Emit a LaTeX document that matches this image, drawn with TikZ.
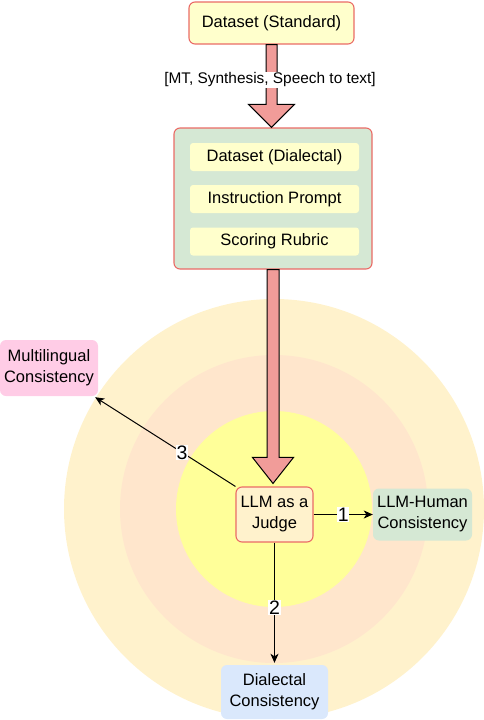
\documentclass[tikz,border=0pt]{standalone}
\usepackage{fontspec}
\setmainfont{Liberation Sans}
\usetikzlibrary{calc,arrows.meta}
\definecolor{cOuter}{HTML}{FFF2CC}
\definecolor{cMid}{HTML}{FFE6CC}
\definecolor{cInner}{HTML}{FFFF99}
\definecolor{cRed}{HTML}{EA6B66}
\definecolor{cPale}{HTML}{FFFFCC}
\definecolor{cGreen}{HTML}{D5E8D4}
\definecolor{cPink}{HTML}{FFCCE6}
\definecolor{cBlue}{HTML}{DAE8FC}
\definecolor{cArrow}{HTML}{F19C99}
\definecolor{cJudge}{HTML}{FFF2CC}
\tikzset{
  txt/.style={font=\fontsize{16.5}{21}\selectfont, align=center, text=black},
  redbox/.style={txt, draw=cRed, line width=1.1pt, rounded corners=6pt, inner sep=0pt},
  innerbox/.style={txt, fill=cPale, rounded corners=3pt, inner sep=0pt, minimum width=169pt, minimum height=28pt},
  outbox/.style={txt, rounded corners=6pt, inner sep=0pt},
  numlbl/.style={font=\fontsize{19.5}{19.5}\selectfont, fill=white, inner sep=0.8pt, text=black},
  conn/.style={line width=1pt, -{Stealth[length=9pt,width=8pt,inset=2.5pt]}},
  bigarrow/.style={fill=cArrow, draw=black, line width=1pt, line join=miter}
}
\begin{document}
\begin{tikzpicture}[x=1pt,y=1pt]
\useasboundingbox (0,0) rectangle (484,-720);
\begin{scope}
\clip (0,0) rectangle (484,-720);
\fill[cOuter] (274,-509) circle (210);
\fill[cMid] (274,-509) circle (154);
\fill[cInner] (274,-509) circle (98);
\end{scope}

\node[redbox, fill=cPale, minimum width=165pt, minimum height=42pt] (std) at (271.5,-23) {Dataset (Standard)};
\node[redbox, fill=cGreen, minimum width=198pt, minimum height=141pt] (cont) at (273,-198.5) {};
\node[innerbox] (d1) at (274.5,-157) {Dataset (Dialectal)};
\node[innerbox] (d2) at (274.5,-199) {Instruction Prompt};
\node[innerbox] (d3) at (274.5,-241.5) {Scoring Rubric};

\node[redbox, fill=cJudge, minimum width=77pt, minimum height=55pt] (judge) at (274.5,-514.5) {LLM as a\\Judge};
\node[outbox, fill=cGreen, minimum width=99pt, minimum height=52pt] (hum) at (422.5,-514.5) {LLM-Human\\Consistency};
\node[outbox, fill=cPink, minimum width=98pt, minimum height=56pt] (mul) at (49,-368) {Multilingual\\Consistency};
\node[outbox, fill=cBlue, minimum width=107pt, minimum height=54pt] (dia) at (274.5,-692) {Dialectal\\Consistency};

% big arrow 1
\draw[bigarrow] let \p1=(std.south), \p2=(cont.north) in
  ({\x1-5.5},\y1) -- ({\x1+5.5},\y1) -- ({\x1+5.5},{\y2+23}) -- ({\x1+23},{\y2+23})
  -- (\x1,\y2) -- ({\x1-23},{\y2+23}) -- ({\x1-5.5},{\y2+23}) -- cycle;
\node[txt, font=\fontsize{15.4}{18}\selectfont, fill=white, inner sep=1pt] (lbl) at (270,-80) {[MT, Synthesis, Speech to text]};

% big arrow 2
\draw[bigarrow] let \p1=(cont.south), \p2=(judge.north) in
  ({\x1-6},\y1) -- ({\x1+6},\y1) -- ({\x1+6},{\y2+29}) -- ({\x1+20.5},{\y2+29})
  -- (\x1,{\y2+3}) -- ({\x1-20.5},{\y2+29}) -- ({\x1-6},{\y2+29}) -- cycle;

% connectors
\draw[conn] (judge.east) -- node[numlbl, pos=0.5] {1} (hum.west);
\draw[conn] (judge.south) -- node[numlbl, pos=0.54] {2} ($(dia.north)+(0,2)$);
\draw[conn] (judge.north west) -- node[numlbl, pos=0.38] {3} ($(mul.south east)+(-3,-1)$);
\end{tikzpicture}
\end{document}
